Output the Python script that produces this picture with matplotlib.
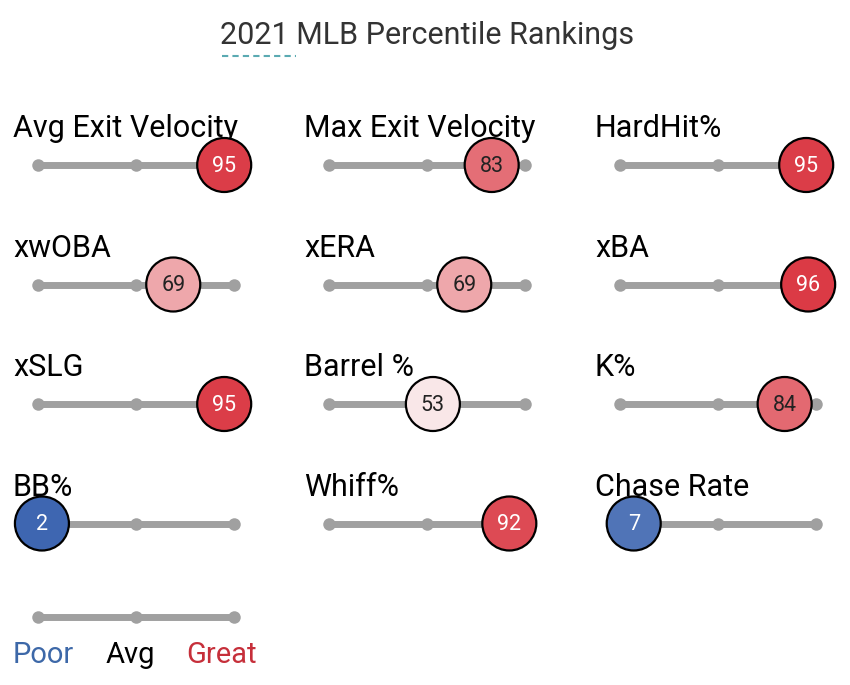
import matplotlib
matplotlib.use("Agg")
from matplotlib import pyplot as plt
from matplotlib.patches import Circle
from matplotlib.colors import LinearSegmentedColormap

plt.rcParams["font.family"] = ["Roboto", "DejaVu Sans"]

metrics = [
    "Avg Exit Velocity", "Max Exit Velocity", "HardHit%",
    "xwOBA", "xERA", "xBA",
    "xSLG", "Barrel %", "K%",
    "BB%", "Whiff%", "Chase Rate",
]
percentiles = [95, 83, 95, 69, 69, 96, 95, 53, 84, 2, 92, 7]
legend_labels = ["Poor", "Avg", "Great"]
legend_colors = ["#3d68a8", "black", "#c62f3a"]

cmap = LinearSegmentedColormap.from_list(
    "savant", [(0.0, "#3660ae"), (0.5, "#fbf3f3"), (1.0, "#d82a36")]
)

# layout in pixels
col_x0 = [38, 329, 620]
slider_w = 196
row_y0 = 165
row_dy = 119.5
label_dx = -25
label_dy = -28
r = 27

fig = plt.figure(figsize=(8.5, 6.85), dpi=100)
ax = fig.add_axes([0, 0, 1, 1])
ax.set_xlim(0, 850)
ax.set_ylim(685, 0)
ax.axis("off")


def slider(x0, y):
    xs = [x0, x0 + slider_w / 2, x0 + slider_w]
    ax.plot([xs[0], xs[-1]], [y, y], color="#a0a0a0", lw=5, solid_capstyle="round", zorder=1)
    ax.plot(xs, [y] * 3, "o", color="#a0a0a0", ms=9, mec="none", zorder=2)


for i, (name, p) in enumerate(zip(metrics, percentiles)):
    x0 = col_x0[i % 3]
    y = row_y0 + row_dy * (i // 3)
    slider(x0, y)
    ax.text(x0 + label_dx, y + label_dy, name, fontsize=22, color="black",
            ha="left", va="baseline", zorder=3)
    cx = x0 + slider_w * p / 100
    ax.add_patch(Circle((cx, y), r, facecolor=cmap(p / 100), edgecolor="black",
                        lw=1.6, zorder=4))
    txt = "white" if (p >= 90 or p <= 20) else "#222222"
    ax.text(cx, y + 1, str(p), fontsize=15.5, color=txt, ha="center", va="center", zorder=5)

# legend
ly = 617
slider(col_x0[0], ly)
legend_x = [col_x0[0] - 25, col_x0[0] + 68, col_x0[0] + 148]
for lx, lab, c in zip(legend_x, legend_labels, legend_colors):
    ax.text(lx, 655, lab, fontsize=21, color=c, ha="left", va="center")

# title
ax.text(427, 35, "2021 MLB Percentile Rankings", fontsize=22, color="#333333",
        ha="center", va="center")
ax.plot([222, 296], [56, 56], color="#5aaab2", lw=1.5, ls=(0, (3, 2)))

fig.savefig("out.png", dpi=100, facecolor="white")
